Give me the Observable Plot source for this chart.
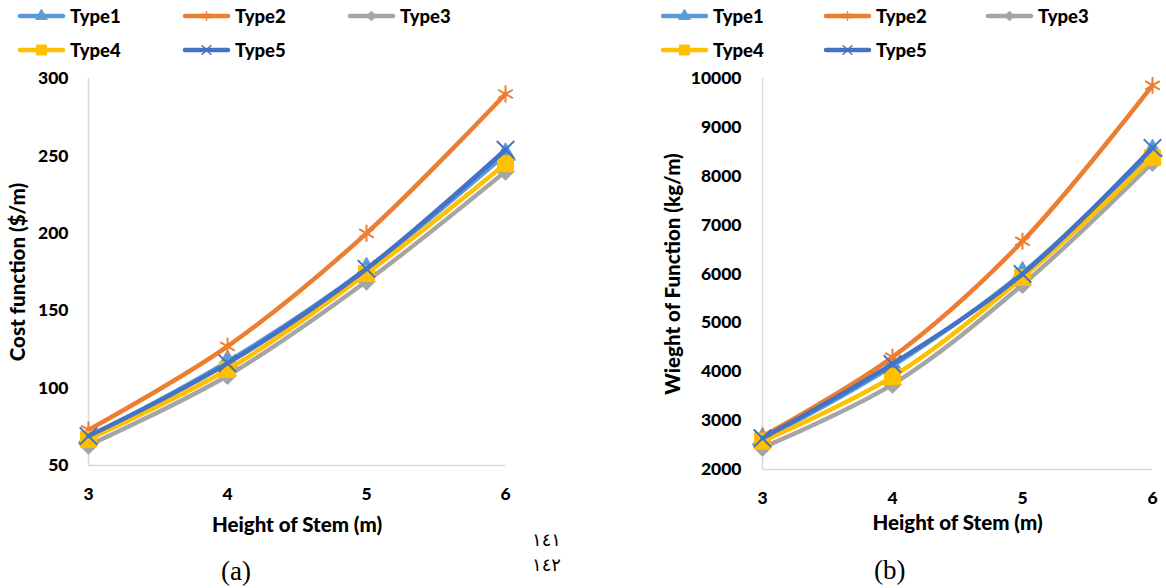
<!DOCTYPE html>
<html><head><meta charset="utf-8">
<script src="https://cdn.jsdelivr.net/npm/d3@7"></script>
<script src="https://cdn.jsdelivr.net/npm/@observablehq/plot@0.6"></script>
<style>
body{margin:0;background:#fff;}
#root{position:relative;width:1166px;height:588px;overflow:hidden;font-family:Lato,sans-serif;}
.panel{position:absolute;top:0;}
.item{position:absolute;display:flex;align-items:center;white-space:nowrap;font-weight:900;font-size:18.5px;color:#000;height:20px;}
.item svg{margin-right:4px;}
.cap{position:absolute;font-family:"Liberation Serif",serif;font-size:27px;color:#000;line-height:1;}
.lnum{position:absolute;font-family:"DejaVu Serif","DejaVu Sans",serif;font-size:18px;color:#000;line-height:1;letter-spacing:2px;}
</style></head><body><div id="root"></div>
<script>
// ---- data ----
const heights = [3, 4, 5, 6];
const seriesNames = ["Type1", "Type2", "Type3", "Type4", "Type5"];
const colors = ["#5B9BD5", "#ED7D31", "#A5A5A5", "#FFC000", "#4472C4"];
const symbolNames = ["triangle", "asterisk", "diamond2", "square", "times"];

// (a) Cost function ($/m)
const costType1 = [68, 117, 177, 251];
const costType2 = [73, 127, 200, 290];
const costType3 = [63, 108, 169, 240];
const costType4 = [67, 112, 174, 245];
const costType5 = [69, 116, 177, 254];
const costTicks = [50, 100, 150, 200, 250, 300];

// (b) Weight of function (kg/m)
const weightType1 = [2620, 4120, 6020, 8520];
const weightType2 = [2680, 4300, 6670, 9860];
const weightType3 = [2450, 3740, 5780, 8280];
const weightType4 = [2580, 3900, 5930, 8380];
const weightType5 = [2640, 4160, 6000, 8580];
const weightTicks = [2000, 3000, 4000, 5000, 6000, 7000, 8000, 9000, 10000];

const heightTicks = [3, 4, 5, 6];

function toRows(arrays) {
  const rows = [];
  arrays.forEach((vals, s) => vals.forEach((v, i) => rows.push({series: seriesNames[s], s, x: heights[i], y: v})));
  return rows;
}
const costRows = toRows([costType1, costType2, costType3, costType4, costType5]);
const weightRows = toRows([weightType1, weightType2, weightType3, weightType4, weightType5]);

const strokeSymbols = new Set(["asterisk", "times"]);
const symbolR = {triangle: 7.5, asterisk: 8, diamond2: 8, square: 9, times: 8};

function seriesMarks(rows) {
  const marks = [];
  seriesNames.forEach((name, s) => {
    const d = rows.filter(r => r.s === s);
    marks.push(Plot.line(d, {x: "x", y: "y", stroke: colors[s], strokeWidth: 4.5, curve: "catmull-rom", strokeLinecap: "round"}));
    const sym = symbolNames[s];
    const isStroke = strokeSymbols.has(sym);
    marks.push(Plot.dot(d, {x: "x", y: "y", symbol: () => sym, r: symbolR[sym],
      fill: isStroke ? "none" : colors[s], stroke: colors[s], strokeWidth: isStroke ? 2 : 1}));
  });
  return marks;
}

const axisStyle = {fontFamily: "Lato, sans-serif", fontWeight: "900", fontSize: "17.5px", color: "#000", background: "transparent", overflow: "visible"};

function chart({rows, yDomain, yTicks, yLabel, width, height, ml, mr, mt, mb, yLabelOffset, xLabelOffset, tickPadY}) {
  return Plot.plot({
    width, height,
    marginLeft: ml, marginRight: mr, marginTop: mt, marginBottom: mb,
    style: axisStyle,
    x: {domain: [3, 6]},
    y: {domain: yDomain},
    marks: [
      Plot.ruleX([3], {stroke: "#D9D9D9", strokeWidth: 1.5}),
      Plot.ruleY([yDomain[0]], {stroke: "#D9D9D9", strokeWidth: 1.5}),
      Plot.axisX(heightTicks, {tickSize: 0, tickPadding: 22, tickFormat: d => String(d), label: null, fontSize: 17.5, fontWeight: "900"}),
      Plot.axisX({tickSize: 0, ticks: [], label: "Height of Stem (m)", labelAnchor: "center", labelOffset: xLabelOffset, labelArrow: "none", fontSize: 20.5, fontWeight: "900"}),
      Plot.axisY(yTicks, {tickSize: 0, tickPadding: tickPadY, tickFormat: d => String(d), label: null, fontSize: 17.5, fontWeight: "900"}),
      Plot.axisY({tickSize: 0, ticks: [], label: yLabel, labelAnchor: "center", labelOffset: yLabelOffset, labelArrow: "none", fontSize: 20.5, fontWeight: "900"}),
      ...seriesMarks(rows)
    ]
  });
}

const root = document.getElementById("root");

function addPanel(left, svg) {
  const div = document.createElement("div");
  div.className = "panel";
  div.style.left = left + "px";
  div.appendChild(svg);
  root.appendChild(div);
}

addPanel(0, chart({rows: costRows, yDomain: [50, 300], yTicks: costTicks, yLabel: "Cost function ($/m)",
  width: 560, height: 540, ml: 88, mr: 55, mt: 78, mb: 75, yLabelOffset: 78, xLabelOffset: 66, tickPadY: 20}));
addPanel(583, chart({rows: weightRows, yDomain: [2000, 10000], yTicks: weightTicks, yLabel: "Wieght of Function (kg/m)",
  width: 583, height: 540, ml: 179, mr: 14, mt: 78, mb: 71, yLabelOffset: 97, xLabelOffset: 60, tickPadY: 21}));

// legends
function swatch(s) {
  const sym = symbolNames[s];
  const symObj = {triangle: d3.symbolTriangle, asterisk: d3.symbolAsterisk, diamond2: d3.symbolDiamond2, square: d3.symbolSquare, times: d3.symbolTimes}[sym];
  const size = sym === "square" ? 100 : 60;
  const path = d3.symbol(symObj, size)();
  const isStroke = strokeSymbols.has(sym);
  return `<svg width="49" height="20" viewBox="0 0 49 20"><line x1="3" y1="10" x2="46" y2="10" stroke="${colors[s]}" stroke-width="4.5" stroke-linecap="round"/><path transform="translate(24.5,10)" d="${path}" fill="${isStroke ? "none" : colors[s]}" stroke="${colors[s]}" stroke-width="${isStroke ? 1.5 : 1}"/></svg>`;
}
function addLegend(xs, rowYs) {
  seriesNames.forEach((name, s) => {
    const div = document.createElement("div");
    div.className = "item";
    div.style.left = xs[s % 3] + "px";
    div.style.top = (rowYs[Math.floor(s / 3)] - 10) + "px";
    div.innerHTML = swatch(s) + `<span>${name}</span>`;
    root.appendChild(div);
  });
}
addLegend([17, 182, 347], [16, 50]);
addLegend([660, 823, 985], [16, 50]);

// captions
function addText(cls, text, left, top) {
  const d = document.createElement("div");
  d.className = cls; d.textContent = text;
  d.style.left = left + "px"; d.style.top = top + "px";
  root.appendChild(d);
}
addText("cap", "(a)", 221, 558);
addText("cap", "(b)", 874, 557);
addText("lnum", "١٤١", 532, 531);
addText("lnum", "١٤٢", 532, 556);
</script></body></html>
